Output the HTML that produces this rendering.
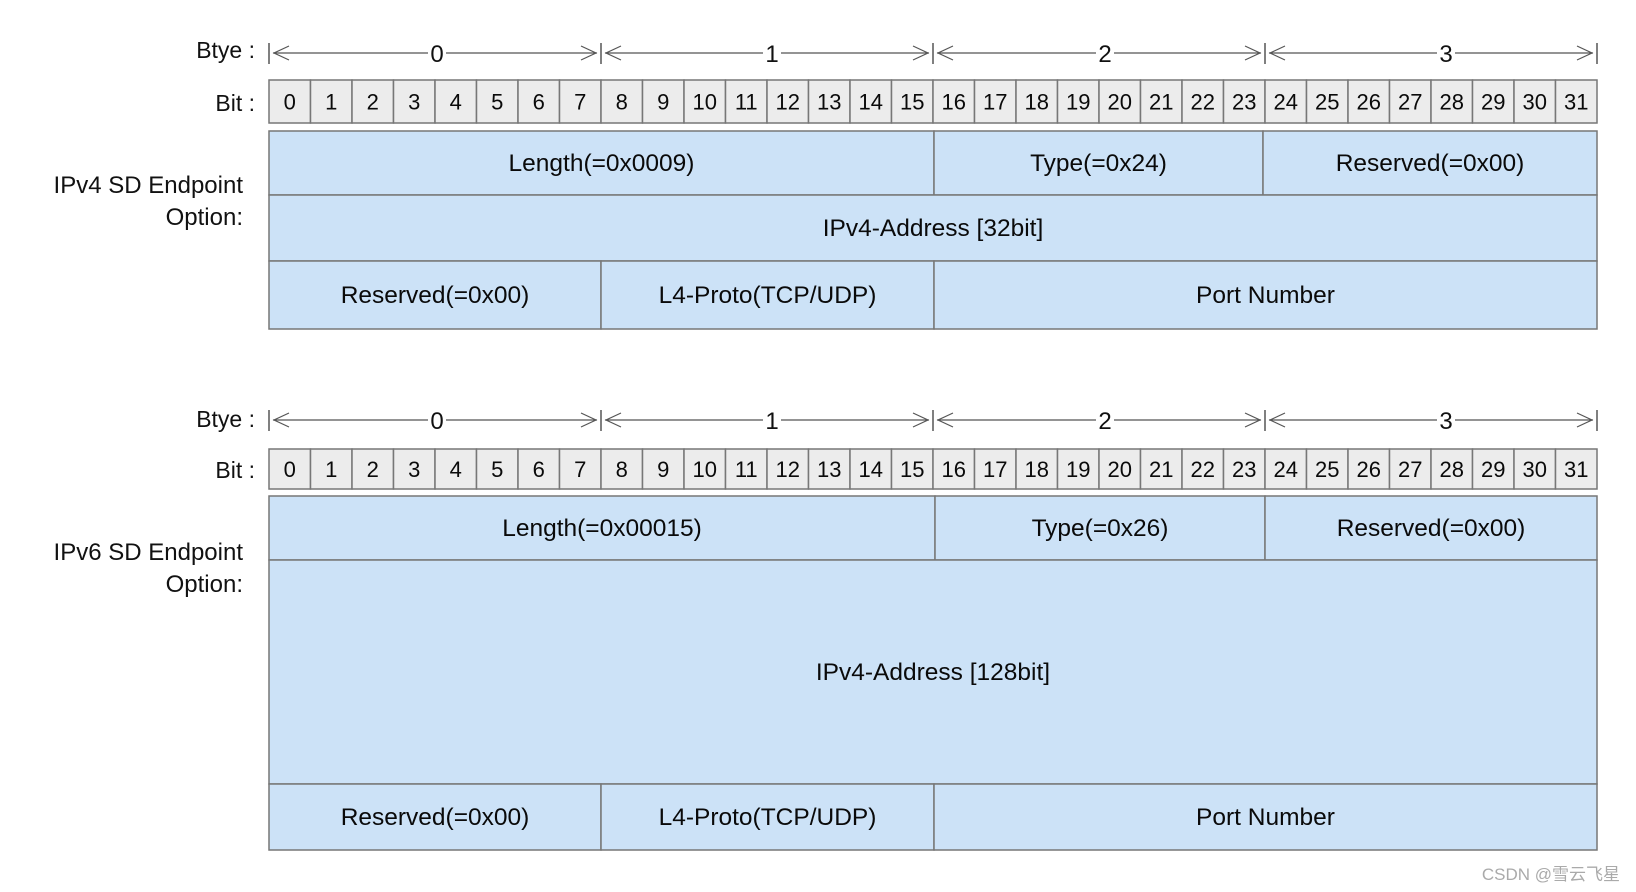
<!DOCTYPE html>
<html><head><meta charset="utf-8"><style>
html,body{margin:0;padding:0;background:#fff;}
svg{display:block;font-family:"Liberation Sans","DejaVu Sans",sans-serif;}
</style></head><body>
<svg width="1636" height="892" viewBox="0 0 1636 892" xmlns="http://www.w3.org/2000/svg">
<g>
<text x="255" y="58" font-size="23" text-anchor="end" fill="#111">Btye :</text>
<text x="255" y="111" font-size="23" text-anchor="end" fill="#111">Bit :</text>
<text x="243" y="193" font-size="24" text-anchor="end" fill="#111">IPv4 SD Endpoint</text>
<text x="243" y="225" font-size="24" text-anchor="end" fill="#111">Option:</text>
</g>
<g>
<text x="255" y="427" font-size="23" text-anchor="end" fill="#111">Btye :</text>
<text x="255" y="478" font-size="23" text-anchor="end" fill="#111">Bit :</text>
<text x="243" y="560" font-size="24" text-anchor="end" fill="#111">IPv6 SD Endpoint</text>
<text x="243" y="592" font-size="24" text-anchor="end" fill="#111">Option:</text>
</g>
<text x="1620" y="880" font-size="17" text-anchor="end" fill="#aaa" font-family="'Liberation Sans','Noto Sans CJK SC',sans-serif">CSDN @雪云飞星</text>
</svg>
<script>
var ns="http://www.w3.org/2000/svg";
var svg=document.querySelector('svg');
function el(t,a,txt){var e=document.createElementNS(ns,t);for(var k in a)e.setAttribute(k,a[k]);if(txt!=null)e.textContent=txt;svg.appendChild(e);return e;}
var L=269,R=1597,cw=(R-L)/32;
var dig=[437,772,1105,1446];
function section(ay,by0,by1,rows){
  for(var b=0;b<4;b++){
    var x0=L+b*332,x1=x0+332;
    el('line',{x1:x0,y1:ay-10,x2:x0,y2:ay+11,stroke:'#555','stroke-width':1.5});
    el('line',{x1:x0+4,y1:ay,x2:x1-4,y2:ay,stroke:'#555','stroke-width':1.2});
    el('polyline',{points:(x0+20)+','+(ay-7)+' '+(x0+5)+','+ay+' '+(x0+20)+','+(ay+7),fill:'none',stroke:'#555','stroke-width':1.2});
    el('polyline',{points:(x1-20)+','+(ay-7)+' '+(x1-5)+','+ay+' '+(x1-20)+','+(ay+7),fill:'none',stroke:'#555','stroke-width':1.2});
    el('rect',{x:dig[b]-9,y:ay-12,width:18,height:22,fill:'#fff'});
    el('text',{x:dig[b],y:ay+9,'font-size':24,'text-anchor':'middle',fill:'#111'},String(b));
  }
  el('line',{x1:R,y1:ay-10,x2:R,y2:ay+11,stroke:'#555','stroke-width':1.5});
  for(var i=0;i<32;i++){
    var x=L+i*cw;
    el('rect',{x:x,y:by0,width:cw,height:by1-by0,fill:'#ececec',stroke:'#777','stroke-width':1.5});
    el('text',{x:x+cw/2,y:(by0+by1)/2+8,'font-size':22,'text-anchor':'middle',fill:'#0a0a0a'},String(i));
  }
  rows.forEach(function(r){
    r.cells.forEach(function(c){
      el('rect',{x:c[0],y:r.y0,width:c[1]-c[0],height:r.y1-r.y0,fill:'#cce2f7',stroke:'#777','stroke-width':1.5});
      el('text',{x:(c[0]+c[1])/2,y:(r.y0+r.y1)/2+8,'font-size':24.5,'text-anchor':'middle',fill:'#0a0a0a'},c[2]);
    });
  });
}
section(53,80,123,[
 {y0:131,y1:195,cells:[[L,934,'Length(=0x0009)'],[934,1263,'Type(=0x24)'],[1263,R,'Reserved(=0x00)']]},
 {y0:195,y1:261,cells:[[L,R,'IPv4-Address [32bit]']]},
 {y0:261,y1:329,cells:[[L,601,'Reserved(=0x00)'],[601,934,'L4-Proto(TCP/UDP)'],[934,R,'Port Number']]}
]);
section(420,449,489,[
 {y0:496,y1:560,cells:[[L,935,'Length(=0x00015)'],[935,1265,'Type(=0x26)'],[1265,R,'Reserved(=0x00)']]},
 {y0:560,y1:784,cells:[[L,R,'IPv4-Address [128bit]']]},
 {y0:784,y1:850,cells:[[L,601,'Reserved(=0x00)'],[601,934,'L4-Proto(TCP/UDP)'],[934,R,'Port Number']]}
]);
</script>
</body></html>
